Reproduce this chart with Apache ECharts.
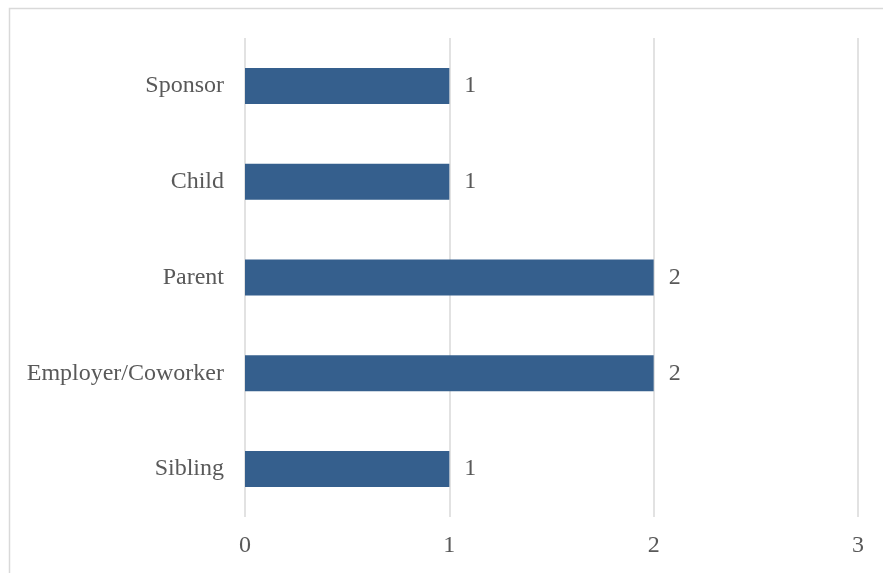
<!DOCTYPE html>
<html>
<head>
<meta charset="utf-8">
<script src="https://cdn.jsdelivr.net/npm/echarts@6/dist/echarts.min.js"></script>
<style>
  html, body { margin: 0; padding: 0; background: #ffffff; }
  #chart { width: 883px; height: 573px; }
</style>
</head>
<body>
<div id="chart"></div>
<script>
// Relationship categories, listed bottom to top
const categories = ['Sibling', 'Employer/Coworker', 'Parent', 'Child', 'Sponsor'];
const counts = [1, 2, 2, 1, 1];
const xTicks = [0, 1, 2, 3];

const textColor = '#595959';
const fontFamily = '"Liberation Serif", "Times New Roman", serif';

const chart = echarts.init(document.getElementById('chart'), null, { renderer: 'canvas' });

chart.setOption({
  backgroundColor: '#ffffff',
  animation: false,
  graphic: [{
    type: 'rect',
    shape: { x: 9.5, y: 8.5, width: 900, height: 600 },
    style: { fill: 'none', stroke: '#d9d9d9', lineWidth: 1.5 },
    silent: true
  }],
  grid: { left: 245, right: 25, top: 38, bottom: 56, containLabel: false },
  xAxis: {
    type: 'value',
    min: xTicks[0],
    max: xTicks[xTicks.length - 1],
    interval: 1,
    axisLine: { show: false },
    axisTick: { show: false },
    splitLine: { show: true, lineStyle: { color: '#d9d9d9', width: 1.5 } },
    axisLabel: { color: textColor, fontSize: 24, fontFamily: fontFamily, margin: 17 }
  },
  yAxis: {
    type: 'category',
    data: categories,
    axisLine: { show: false },
    axisTick: { show: false },
    splitLine: { show: false },
    axisLabel: { color: textColor, fontSize: 24, fontFamily: fontFamily, margin: 21, padding: [2, 0, 0, 0] }
  },
  series: [{
    type: 'bar',
    data: counts,
    barWidth: 36,
    itemStyle: { color: '#355f8d' },
    label: {
      show: true,
      position: 'right',
      distance: 15,
      color: textColor,
      fontSize: 24,
      fontFamily: fontFamily,
      padding: [2, 0, 0, 0]
    }
  }]
});
</script>
</body>
</html>
